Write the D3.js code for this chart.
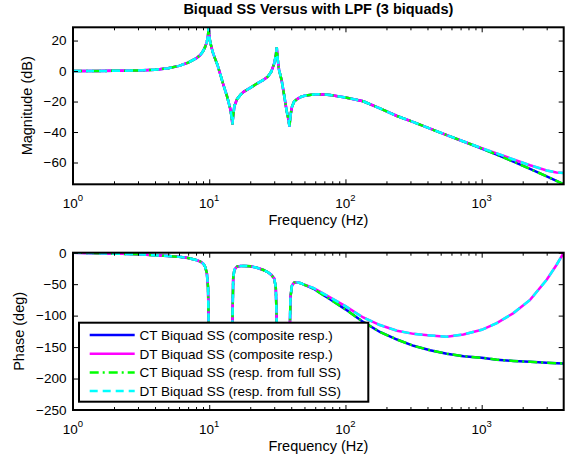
<!DOCTYPE html>
<html><head><meta charset="utf-8">
<script src="https://cdn.jsdelivr.net/npm/d3@7/dist/d3.min.js"></script>
<style>
body{margin:0;background:#fff;}
text{font-family:"Liberation Sans",Arial,Helvetica,sans-serif;fill:#000;}
</style></head><body>
<svg id="c" width="572" height="456"></svg>
<script>
// ---------- data ----------
const freq = [1,1.5,2,3,4,5,6,7,8,8.6,9,9.3,9.6,9.8,9.9,10,10.1,10.3,10.6,11,11.5,12,12.7,13.5,14.2,14.6,14.8,15,15.3,16,17,18,20,22.4,25,27,28.5,30,30.8,31.3,31.8,32.5,34,35.5,37,38.2,38.8,39.5,40.5,42,44,47,50,58,65,77,100,135,179,239,316,418,554,735,1000,1290,1710,2266,3000,3540,4000];
const magCT = [0,0.05,0.15,0.4,0.9,1.9,3.4,5.5,8.3,10.5,13,15.5,19,23.5,28.7,24,20.5,17,12.5,8.5,4,-1.5,-9,-16.5,-24,-30,-35,-29,-23,-18.5,-15.5,-13.5,-11,-8.2,-5.8,-3.5,-0.5,5,10,15.5,8,1,-6,-16,-26,-32,-36.5,-29,-23.5,-20,-18.5,-17,-16.2,-15.4,-15.2,-15.7,-17.3,-19.8,-24.5,-29.5,-33.5,-37.8,-42,-46.2,-50.8,-54.8,-59.4,-64.2,-69.1,-72,-74.2];
const magDT = [0,0.05,0.15,0.4,0.9,1.9,3.4,5.5,8.3,10.5,13,15.5,19,23.5,28.7,24,20.5,17,12.5,8.5,4,-1.5,-9,-16.5,-24,-30,-35,-29,-23,-18.5,-15.5,-13.5,-11,-8.2,-5.8,-3.5,-0.5,5,10,15.5,8,1,-6,-16,-26,-32,-36.5,-29,-23.5,-20,-18.5,-17,-16.2,-15.4,-15.2,-15.7,-17.3,-19.8,-24.5,-29.5,-33.5,-37.8,-42,-46.2,-50.6,-54,-58,-61.8,-65.2,-66.5,-66.9];
const phaseCT = [0,-0.7,-1.4,-2.6,-4,-5.3,-6.6,-8.5,-11.5,-14,-17,-21.5,-32,-55,-110,-170,-190,-196,-198,-199,-199,-199,-198,-197,-194,-185,-110,-40,-27,-22,-21,-21,-21.5,-24,-27.5,-31,-35,-41,-55,-110,-185,-198,-202,-203,-201,-195,-150,-70,-52,-47.5,-47,-48.5,-51,-57,-64,-74,-90,-110,-126,-138,-148,-155,-160.5,-164.5,-167,-170,-172,-173.5,-175,-175.6,-176];
const phaseDT = [0,-0.7,-1.4,-2.6,-4,-5.3,-6.6,-8.5,-11.5,-14,-17,-21.5,-32,-55,-110,-170,-190,-196,-198,-199,-199,-199,-198,-197,-194,-185,-110,-40,-27,-22,-21,-21,-21.5,-24,-27.5,-31,-35,-41,-55,-110,-185,-198,-202,-203,-201,-195,-150,-70,-52,-47.5,-47,-48.5,-51,-56,-62,-71,-85,-103,-115,-124,-129,-131.5,-133.5,-130,-122.5,-112,-96,-75,-43,-19.5,0];
const seriesNames = ["CT Biquad SS (composite resp.)","DT Biquad SS (composite resp.)","CT Biquad SS (resp. from full SS)","DT Biquad SS (resp. from full SS)"];
const magTicks = [20,0,-20,-40,-60];
const phaseTicks = [0,-50,-100,-150,-200,-250];
const decadeExps = [0,1,2,3];
const titleText = "Biquad SS Versus with LPF (3 biquads)";

// ---------- styles ----------
const colors = ["#0000ff","#ff00ff","#00ff00","#00ffff"];
const dashes = [null,null,"9,4,2,4","8,5"];

const svg = d3.select("#c");
const L = 73, R = 563.7;
const x = d3.scaleLog().domain([1,4000]).range([L,R]);
const majors = decadeExps.map(e=>Math.pow(10,e));
const minors = [];
decadeExps.forEach(e=>{for(let m=2;m<=9;m++){const v=m*Math.pow(10,e); if(v<4000) minors.push(v);}});

function panel(id, top, bottom, ydom, yticks, series, ylabel, ylabelX){
  const y = d3.scaleLinear().domain(ydom).range([bottom, top]);
  const g = svg.append("g");
  g.append("clipPath").attr("id","clip"+id).append("rect")
    .attr("x",L).attr("y",top).attr("width",R-L).attr("height",bottom-top);
  const line = d3.line().x(d=>x(d[0])).y(d=>y(d[1]));
  const lg = g.append("g").attr("clip-path","url(#clip"+id+")");
  series.forEach((vals,i)=>{
    lg.append("path").datum(freq.map((f,j)=>[f,vals[j]]))
      .attr("d",line).attr("fill","none").attr("stroke",colors[i])
      .attr("stroke-width",2.5).attr("stroke-dasharray",dashes[i]);
  });
  const tickStyle = s=>{s.select(".domain").remove(); s.selectAll("line").attr("stroke","#000").attr("stroke-width",1); s.selectAll("text").remove();};
  g.append("g").attr("transform",`translate(0,${bottom})`).call(d3.axisBottom(x).tickValues(majors).tickSize(-5)).call(tickStyle);
  g.append("g").attr("transform",`translate(0,${bottom})`).call(d3.axisBottom(x).tickValues(minors).tickSize(-3)).call(tickStyle);
  g.append("g").attr("transform",`translate(0,${top})`).call(d3.axisTop(x).tickValues(majors).tickSize(-5)).call(tickStyle);
  g.append("g").attr("transform",`translate(0,${top})`).call(d3.axisTop(x).tickValues(minors).tickSize(-3)).call(tickStyle);
  g.append("g").attr("transform",`translate(${L},0)`).call(d3.axisLeft(y).tickValues(yticks).tickSize(-5)).call(tickStyle);
  g.append("g").attr("transform",`translate(${R},0)`).call(d3.axisRight(y).tickValues(yticks).tickSize(-5)).call(tickStyle);
  g.append("rect").attr("x",L).attr("y",top).attr("width",R-L).attr("height",bottom-top)
    .attr("fill","none").attr("stroke","#000").attr("stroke-width",2);
  g.selectAll(".yl").data(yticks).enter().append("text")
    .attr("x",L-6.5).attr("y",d=>y(d)).attr("dy","0.36em").attr("text-anchor","end")
    .attr("font-size",13.5).text(d=>d<0?"\u2212"+Math.abs(d):d);
  const xl = g.selectAll(".xl").data(decadeExps).enter().append("text")
    .attr("x",d=>x(Math.pow(10,d))).attr("y",bottom+23.5).attr("text-anchor","middle").attr("font-size",13.5);
  xl.append("tspan").text("10");
  xl.append("tspan").attr("dy",-6.5).attr("font-size",9.5).text(d=>d);
  g.append("text").attr("x",(L+R)/2).attr("y",bottom+40.5).attr("text-anchor","middle").attr("font-size",14.5).text("Frequency (Hz)");
  g.append("text").attr("transform",`translate(${ylabelX},${(top+bottom)/2}) rotate(-90)`)
    .attr("text-anchor","middle").attr("font-size",14.5).text(ylabel);
  return y;
}

svg.append("text").attr("x",(L+R)/2).attr("y",14).attr("text-anchor","middle")
  .attr("font-size",14.5).attr("font-weight","bold").text(titleText);

panel("m", 27.3, 184.3, [-74.3,28.7], magTicks, [magCT,magDT,magCT,magDT], "Magnitude (dB)", 32);
panel("p", 252.7, 410, [-250,0], phaseTicks, [phaseCT,phaseDT,phaseCT,phaseDT], "Phase (deg)", 23.5);

const lg = svg.append("g");
lg.append("rect").attr("x",79).attr("y",322.7).attr("width",289.3).attr("height",79)
  .attr("fill","#fff").attr("stroke","#000").attr("stroke-width",2);
seriesNames.forEach((n,i)=>{
  const yy = 335 + i*18.7;
  lg.append("line").attr("x1",89.7).attr("x2",134.7).attr("y1",yy).attr("y2",yy)
    .attr("stroke",colors[i]).attr("stroke-width",2.5).attr("stroke-dasharray",dashes[i]);
  lg.append("text").attr("x",139.5).attr("y",yy).attr("dy","0.36em").attr("font-size",13.5).text(n);
});
</script>
</body></html>
